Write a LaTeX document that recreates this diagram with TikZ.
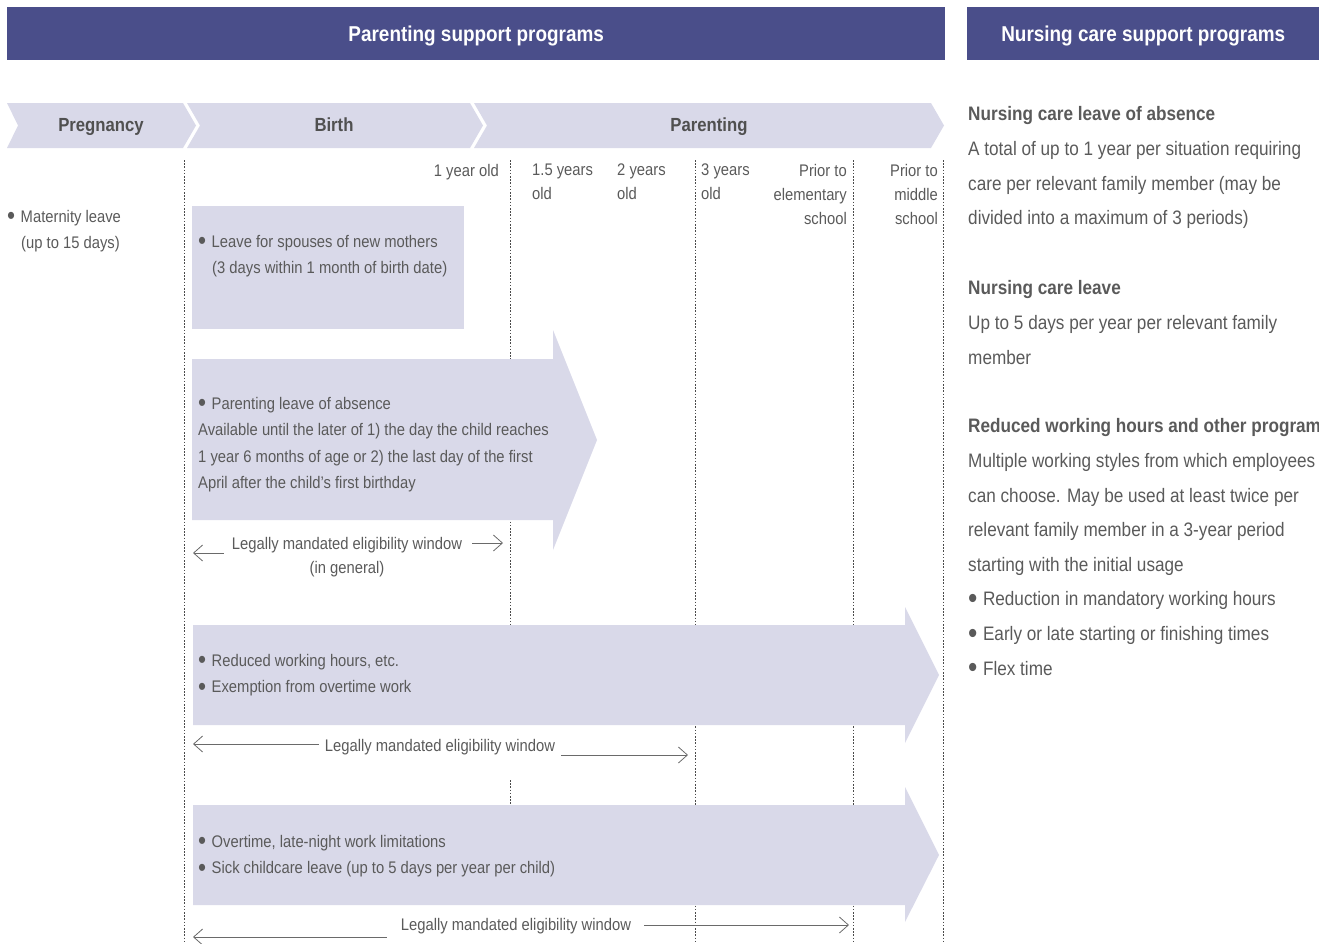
\documentclass[tikz,border=0pt]{standalone}
\usepackage{fontspec}
\setmainfont{Liberation Sans}[FakeStretch=0.88]
\usepackage{graphicx}
\usepackage{tikz}
\usetikzlibrary{positioning, arrows.meta}
\definecolor{band}{HTML}{4A4E8A}
\definecolor{lav}{HTML}{D9D9E9}
\definecolor{ink}{HTML}{5A5A5A}
\definecolor{phaseink}{HTML}{505050}
\definecolor{rule}{HTML}{4A4A4A}
\definecolor{winc}{HTML}{6A6A6A}
\newcommand{\bul}{\raisebox{-0.14em}{\scalebox{1.55}{\textbullet}}\hspace{5.5pt}}

\begin{document}
\begin{tikzpicture}[x=1pt, y=-1pt,
      banner/.style={fill=band, text=white, anchor=north west, inner sep=0pt,
        text height=20pt, text depth=3.6pt, font=\bfseries\fontsize{21.5}{24}\selectfont},
      phase/.style={fill=lav},
      phasetxt/.style={text=phaseink, inner sep=0pt, text height=16pt, text depth=3.4pt,
        font=\bfseries\fontsize{19}{22}\selectfont},
      timeline/.style={draw=rule, line width=0.9pt, dash pattern=on 1.6pt off 1.6pt},
      program/.style={fill=lav},
      agetxt/.style={text=ink, inner sep=0pt, font=\fontsize{16.8}{24}\selectfont},
      body/.style={text=ink, inner sep=0pt, anchor=north west, align=left,
        font=\fontsize{16.8}{26.5}\selectfont},
      wintxt/.style={text=ink, inner sep=0pt, align=center, font=\fontsize{16.8}{24}\selectfont},
      win/.style={draw=winc, line width=0.8pt, -{Straight Barb[length=9pt, width=16pt]}},
      side/.style={text=ink, inner sep=0pt, anchor=north west, align=left,
        font=\fontsize{19.5}{34.6}\selectfont}]

    \useasboundingbox (0,0) rectangle (1319,943);

    % title bars
    \node[banner, minimum width=938pt, minimum height=53pt] (parbar) at (7,7) {Parenting support programs};
    \node[banner, minimum width=352pt, minimum height=53pt] (nurbar) at (967,7) {Nursing care support programs};

    % phases
    \fill[phase] (7,103) -- (183,103) -- (196,125.5) -- (183,148) -- (7,148) -- (18,125.5) -- cycle;
    \fill[phase] (187,103) -- (470,103) -- (483,125.5) -- (470,148) -- (187,148) -- (200,125.5) -- cycle;
    \fill[phase] (474,103) -- (931,103) -- (944,125.5) -- (931,148) -- (474,148) -- (487,125.5) -- cycle;
    \node[phasetxt] (preg) at (101,125.5) {Pregnancy};
    \node[phasetxt] (birth) at (334,125.5) {Birth};
    \node[phasetxt] (parent) at (709,125.5) {Parenting};

    % age marks
    \draw[timeline] (184,160) -- (184,943);
    \draw[timeline] (510,160) -- (510,725);
    \draw[timeline] (510,780) -- (510,805);
    \draw[timeline] (695,160) -- (695,943);
    \draw[timeline] (853,160) -- (853,943);
    \draw[timeline] (943,160) -- (943,943);

    \node[agetxt, anchor=north east] (age1) at (499,164) {1 year old};
    \node[agetxt, anchor=north west, align=left] (age15) at (532,164) {1.5 years\\old};
    \node[agetxt, anchor=north west, align=left] (age2) at (617,164) {2 years\\old};
    \node[agetxt, anchor=north west, align=left] (age3) at (701,164) {3 years\\old};
    \node[agetxt, anchor=north east, align=right] (elem) at (847,164) {Prior to\\elementary\\school};
    \node[agetxt, anchor=north east, align=right] (middle) at (938,164) {Prior to\\middle\\school};

    % programs
    \node[body] (matern) at (7,210) {\bul Maternity leave\\\hspace*{14pt}(up to 15 days)};

    \fill[program] (192,206) rectangle (464,329);
    \node[body] (spouse) at (198,235) {\bul Leave for spouses of new mothers\\\hspace*{14pt}(3 days within 1 month of birth date)};

    \fill[program] (192,359) -- (553,359) -- (553,330) -- (597,440) -- (553,550) -- (553,520) -- (192,520) -- cycle;
    \node[body] (pleave) at (198,397) {\bul Parenting leave of absence\\Available until the later of 1) the day the child reaches\\1 year 6 months of age or 2) the last day of the first\\April after the child's first birthday};

    \fill[program] (193,625) -- (905,625) -- (905,607) -- (939,675) -- (905,743) -- (905,725) -- (193,725) -- cycle;
    \node[body] (hours) at (198,654) {\bul Reduced working hours, etc.\\\bul Exemption from overtime work};

    \fill[program] (193,805) -- (905,805) -- (905,787) -- (939,855) -- (905,922) -- (905,905) -- (193,905) -- cycle;
    \node[body] (limits) at (198,835) {\bul Overtime, late-night work limitations\\\bul Sick childcare leave (up to 5 days per year per child)};

    % eligibility windows
    \node[wintxt] (win1) at (347,557) {Legally mandated eligibility window\\(in general)};
    \coordinate (win1l) at (193,553);
    \coordinate (win1r) at (503,543);
    \draw[win] (win1.west |- win1l) ++(-8pt,0) -- (win1l);
    \draw[win] (win1.east |- win1r) ++(10pt,0) -- (win1r);

    \node[wintxt] (win2) at (440,747) {Legally mandated eligibility window};
    \coordinate (win2l) at (193,744);
    \coordinate (win2r) at (688,755);
    \draw[win] (win2.west |- win2l) ++(-6pt,0) -- (win2l);
    \draw[win] (win2.east |- win2r) ++(6pt,0) -- (win2r);

    \node[wintxt] (win3) at (516,926) {Legally mandated eligibility window};
    \coordinate (win3l) at (193,937);
    \coordinate (win3r) at (849,925);
    \draw[win] (win3.west |- win3l) ++(-14pt,0) -- (win3l);
    \draw[win] (win3.east |- win3r) ++(13pt,0) -- (win3r);

    % nursing care column
    \node[side] (nleave) at (968,106.5) {\textbf{Nursing care leave of absence}\\A total of up to 1 year per situation requiring\\care per relevant family member (may be\\divided into a maximum of 3 periods)};
    \node[side] (nshort) at (968,280.5) {\textbf{Nursing care leave}\\Up to 5 days per year per relevant family\\member};
    \node[side] (nhours) at (968,418.5) {\textbf{Reduced working hours and other program}\\Multiple working styles from which employees\\can choose. May be used at least twice per\\relevant family member in a 3-year period\\starting with the initial usage\\\bul Reduction in mandatory working hours\\\bul Early or late starting or finishing times\\\bul Flex time};
  \end{tikzpicture}
\end{document}
